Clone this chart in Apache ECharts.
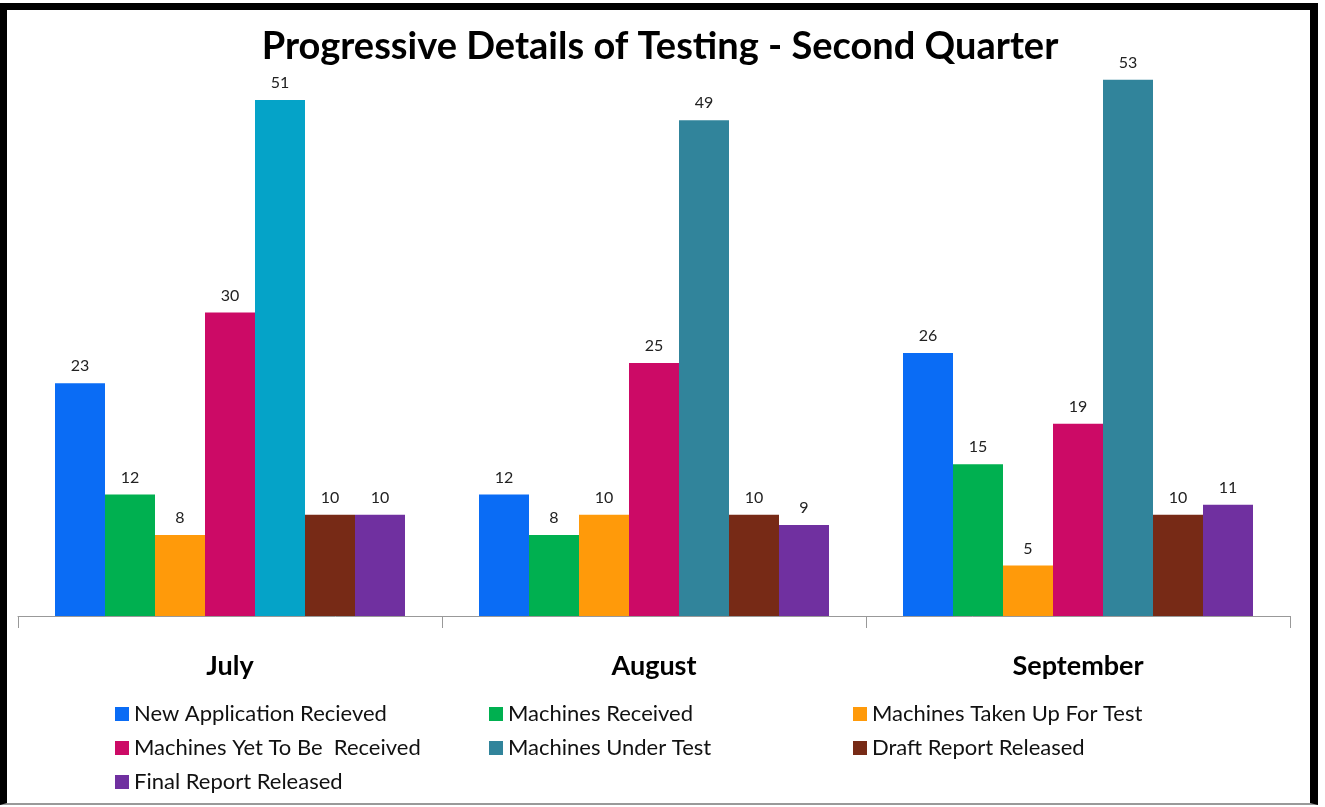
<!DOCTYPE html>
<html>
<head>
<meta charset="utf-8">
<script src="https://cdn.jsdelivr.net/npm/echarts@6/dist/echarts.min.js"></script>
<style>
html,body{margin:0;padding:0;background:#fff;}
#chart{position:absolute;left:0;top:0;width:1325px;height:807px;}
#frame{position:absolute;left:0;top:3px;width:1303px;height:793px;border-left:7px solid #000;border-top:7px solid #000;border-right:8px solid #000;border-bottom:2px solid #999;pointer-events:none;}
</style>
</head>
<body>
<div id="chart"></div>
<div id="frame"></div>
<script>
const months = ['July', 'August', 'September'];
const seriesNames = ['New Application Recieved', 'Machines Received', 'Machines Taken Up For Test', 'Machines Yet To Be  Received', 'Machines Under Test', 'Draft Report Released', 'Final Report Released'];
const newApplication = [23, 12, 26];
const machinesReceived = [12, 8, 15];
const machinesTakenUp = [8, 10, 5];
const machinesYetToBe = [30, 25, 19];
const machinesUnderTest = [51, 49, 53];
const draftReport = [10, 10, 10];
const finalReport = [10, 9, 11];
const seriesColors = ['#0A6CF5', '#00B050', '#FF9A0A', '#CC0A66', '#31849B', '#772A16', '#7030A0'];
const underTestJulyColor = '#05A3C8';

const allValues = [newApplication, machinesReceived, machinesTakenUp, machinesYetToBe, machinesUnderTest, draftReport, finalReport];
const FONT = 'Lato, "Open Sans", sans-serif';

const series = seriesNames.map((name, i) => ({
  name: name,
  type: 'bar',
  barWidth: 50,
  barGap: '0%',
  itemStyle: { color: seriesColors[i] },
  label: { show: true, position: 'top', distance: 9, color: '#222', fontSize: 16, fontFamily: FONT },
  data: allValues[i].map((v, j) => (i === 4 && j === 0) ? { value: v, itemStyle: { color: underTestJulyColor } } : v)
}));

const legendCols = [
  { left: 110, names: [seriesNames[0], seriesNames[3], seriesNames[6]] },
  { left: 484, names: [seriesNames[1], seriesNames[4]] },
  { left: 848, names: [seriesNames[2], seriesNames[5]] }
];

const chart = echarts.init(document.getElementById('chart'), null, { renderer: 'canvas' });
chart.setOption({
  backgroundColor: '#fff',
  animation: false,
  title: {
    text: 'Progressive Details of Testing - Second Quarter',
    left: 655, textAlign: 'center', top: 23,
    textStyle: { fontFamily: FONT, fontSize: 38, fontWeight: 'bold', color: '#000' }
  },
  legend: legendCols.map(c => ({
    data: c.names,
    orient: 'vertical',
    left: c.left, top: 698,
    itemWidth: 14, itemHeight: 14, itemGap: 12,
    icon: 'rect',
    textStyle: { fontFamily: FONT, fontSize: 22, lineHeight: 21, color: '#111' },
    selectedMode: false
  })),
  grid: { left: 18, right: 35, top: 9, bottom: 191, containLabel: false },
  xAxis: {
    type: 'category',
    data: months,
    boundaryGap: true,
    axisLine: { lineStyle: { color: '#999', width: 1 } },
    axisTick: { show: true, length: 12, lineStyle: { color: '#999' } },
    axisLabel: { margin: 37, fontFamily: FONT, fontSize: 27, fontWeight: 'bold', color: '#000' }
  },
  yAxis: {
    type: 'value', min: 0, max: 60, interval: 10,
    show: false,
    splitLine: { show: false }
  },
  series: series
});
</script>
</body>
</html>
